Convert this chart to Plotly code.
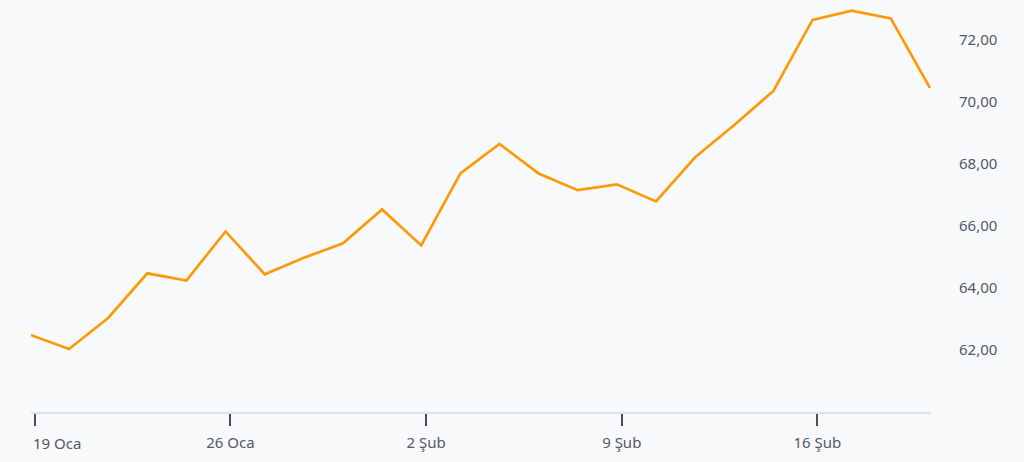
import pandas as pd
import plotly.graph_objects as go

# trading days (Mon-Fri), 19 Jan - 19 Feb 2026
dates = [
    "2026-01-19", "2026-01-20", "2026-01-21", "2026-01-22", "2026-01-23",
    "2026-01-26", "2026-01-27", "2026-01-28", "2026-01-29", "2026-01-30",
    "2026-02-02", "2026-02-03", "2026-02-04", "2026-02-05", "2026-02-06",
    "2026-02-09", "2026-02-10", "2026-02-11", "2026-02-12", "2026-02-13",
    "2026-02-16", "2026-02-17", "2026-02-18", "2026-02-19",
]
prices = [
    62.49, 62.03, 63.03, 64.47, 64.24,
    65.82, 64.44, 64.97, 65.44, 66.53,
    65.37, 67.69, 68.64, 67.69, 67.15,
    67.34, 66.79, 68.21, 69.25, 70.35,
    72.64, 72.94, 72.69, 70.45,
]

# ticks sit at local midnight (UTC+3), a few hours after the data stamps
tick_dates = ["2026-01-19 03:00", "2026-01-26 03:00", "2026-02-02 03:00", "2026-02-09 03:00", "2026-02-16 03:00"]
tick_labels = ["", "26 Oca", "2 Şub", "9 Şub", "16 Şub"]
first_tick_label = "19 Oca"
y_ticks = [62, 64, 66, 68, 70, 72]

FONT = "Noto Sans, Segoe UI, Arial, sans-serif"
TEXT = "#535a68"
BG = "#f8f9fb"

fig = go.Figure()
fig.add_trace(
    go.Scatter(
        x=pd.to_datetime(dates),
        y=prices,
        mode="lines",
        line=dict(color="#fc9a08", width=2.7),
        hovertemplate="%{x|%d %b}<br>%{y:.2f}<extra></extra>",
        showlegend=False,
    )
)

fig.add_annotation(
    x=0, xref="paper", y=0, yref="paper",
    text=first_tick_label, showarrow=False,
    xanchor="left", yanchor="middle", yshift=-31,
    font=dict(family=FONT, size=15, color=TEXT),
)

fig.update_layout(
    width=1024,
    height=462,
    margin=dict(l=31, r=93, t=5, b=50),
    plot_bgcolor=BG,
    paper_bgcolor=BG,
    separators=",.",
    font=dict(family=FONT, size=15, color=TEXT),
)
fig.update_xaxes(
    type="date",
    range=["2026-01-19 00:40", "2026-02-19 00:40"],
    rangebreaks=[dict(bounds=["sat", "mon"])],
    tickvals=tick_dates,
    ticktext=tick_labels,
    ticks="outside",
    ticklen=12,
    tickwidth=1.5,
    tickcolor="#4b5058",
    ticklabelstandoff=4,
    showline=True,
    linecolor="#dde1e8",
    linewidth=1.5,
    showgrid=False,
    zeroline=False,
)
fig.update_yaxes(
    side="right",
    range=[60.0, 73.12],
    tickvals=y_ticks,
    tickformat=".2f",
    ticks="",
    ticklabelstandoff=27,
    showgrid=False,
    zeroline=False,
    showline=False,
)

# drop the default body margin so the figure fills the window
fig.write_html(
    "out.html",
    config={"displayModeBar": False},
    post_script="document.body.style.margin='0';document.body.style.background='%s';" % BG,
)
